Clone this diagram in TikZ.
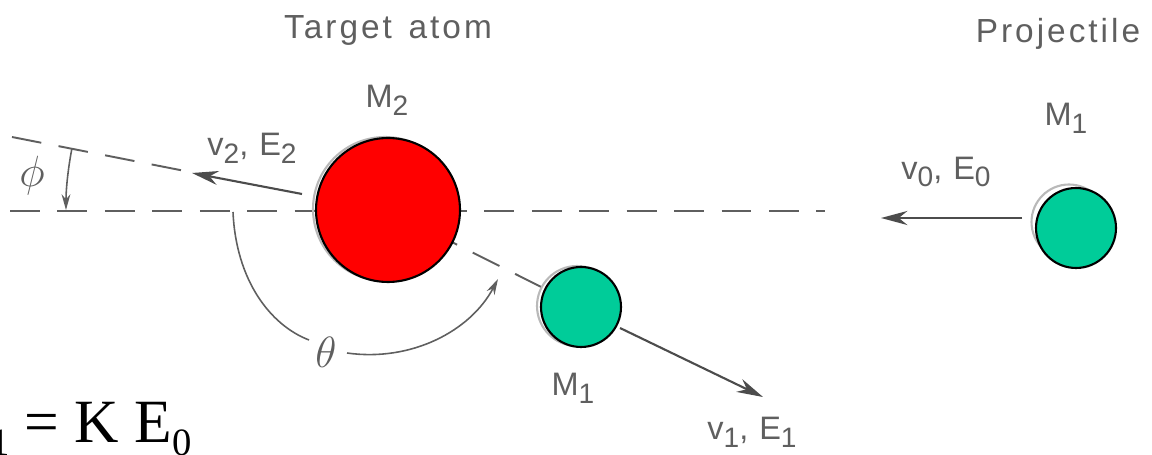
\documentclass[tikz,border=0pt]{standalone}
\usepackage{fontspec}
\setmainfont{Liberation Sans}
\newfontfamily\eqfont{Liberation Serif}
\usetikzlibrary{arrows.meta}
\definecolor{atomred}{RGB}{255,0,0}
\definecolor{atomgreen}{RGB}{0,204,153}
\definecolor{ink}{RGB}{95,95,95}
\newcommand{\lsub}[1]{\raisebox{-0.45ex}{\fontsize{16}{17}\selectfont #1}}
\newcommand{\esub}[1]{\raisebox{-0.22em}{\fontsize{22}{23}\selectfont #1}}
\begin{document}
\begin{tikzpicture}[x=0.02cm,y=-0.02cm,
  lbl/.style={text=ink,font=\fontsize{18.5}{20}\selectfont\addfontfeature{LetterSpace=6},inner sep=0pt},
  ttl/.style={text=ink,font=\fontsize{19}{21}\selectfont\addfontfeature{LetterSpace=9},inner sep=0pt},
  greek/.style={text=ink,font=\fontsize{23}{25}\selectfont,inner sep=0pt},
  axis/.style={draw=ink,line width=1.1pt,dash pattern=on 17pt off 10pt},
  vel/.style={draw=ink!80!black,line width=1.2pt,-{Stealth[length=15pt,width=8pt]}},
  angarc/.style={draw=ink,line width=0.9pt},
  angarrow/.style={angarc,-{Stealth[length=9pt,width=5pt]}},
  atom/.style={circle,draw=black,line width=1.2pt,inner sep=0pt},
  ghost/.style={circle,draw=gray!55,line width=1.2pt,inner sep=0pt}]
\useasboundingbox (0,0) rectangle (1152,455);
\clip (0,0) rectangle (1152,455);
% reference points
\coordinate (c2) at (388,210);
\coordinate (c1b) at (581,307);
\coordinate (c1a) at (1076,228);
\coordinate (hl) at (10,211);
\coordinate (hr) at (825,211);
\coordinate (up) at (12,137);
\coordinate (upe) at (185,171);
% dashed reference lines
\draw[axis] (hl) -- (hr);
\draw[axis] (up) -- (upe);
\draw[axis] (c2) -- (c1b);
% atoms
\node[ghost,minimum size=2.88cm] (g2) at (385,209) {};
\node[atom,fill=atomred,minimum size=2.88cm] (m2) at (c2) {};
\node[ghost,minimum size=1.5cm] (g1a) at (1069,222) {};
\node[atom,fill=atomgreen,minimum size=1.6cm] (m1a) at (c1a) {};
\node[ghost,minimum size=1.6cm] (g1b) at (577,306) {};
\node[atom,fill=atomgreen,minimum size=1.6cm] (m1b) at (c1b) {};
% velocity arrows
\coordinate (v0s) at (1022,218);
\coordinate (v0e) at (881,218);
\draw[vel] (v0s) -- (v0e);
\coordinate (v2s) at (302,194);
\coordinate (v2e) at (192,173);
\draw[vel] (v2s) -- (v2e);
\coordinate (v1s) at (620,328);
\coordinate (v1e) at (763,397);
\draw[vel] (v1s) -- (v1e);
% angle phi
\coordinate (phis) at (71.9,148.6);
\draw[angarrow] (phis) arc[start angle=191,end angle=180,radius=322];
% angle theta
\coordinate (ths) at (233,212);
\coordinate (thm1) at (309,340);
\coordinate (thm2) at (347,353);
\coordinate (the) at (498,279);
\draw[angarc] (ths) .. controls (236,280) and (270,325) .. (thm1);
\draw[angarrow] (thm2) .. controls (410,362) and (470,332) .. (the);
% labels
\node[ttl] (tgt) at (388,30) {Target\hspace{0.5em}atom};
\node[ttl] (proj) at (1058,34) {Projectile};
\node[lbl] (lm2) at (387,100) {M\lsub{2}};
\node[lbl] (lm1a) at (1066,118) {M\lsub{1}};
\node[lbl] (lm1b) at (573,388) {M\lsub{1}};
\node[lbl] (lv0) at (946,172) {v\lsub{0}, E\lsub{0}};
\node[lbl] (lv2) at (252,148) {v\lsub{2}, E\lsub{2}};
\node[lbl] (lv1) at (752,432) {v\lsub{1}, E\lsub{1}};
\node[greek] (lphi) at (32,176) {$\phi$};
\node[greek] (lth) at (326,352) {$\theta$};
\node[font=\eqfont\fontsize{35}{38}\selectfont,inner sep=0pt,anchor=base east] (eq) at (192,442) {E\esub{1} = K E\esub{0}};
\end{tikzpicture}
\end{document}
